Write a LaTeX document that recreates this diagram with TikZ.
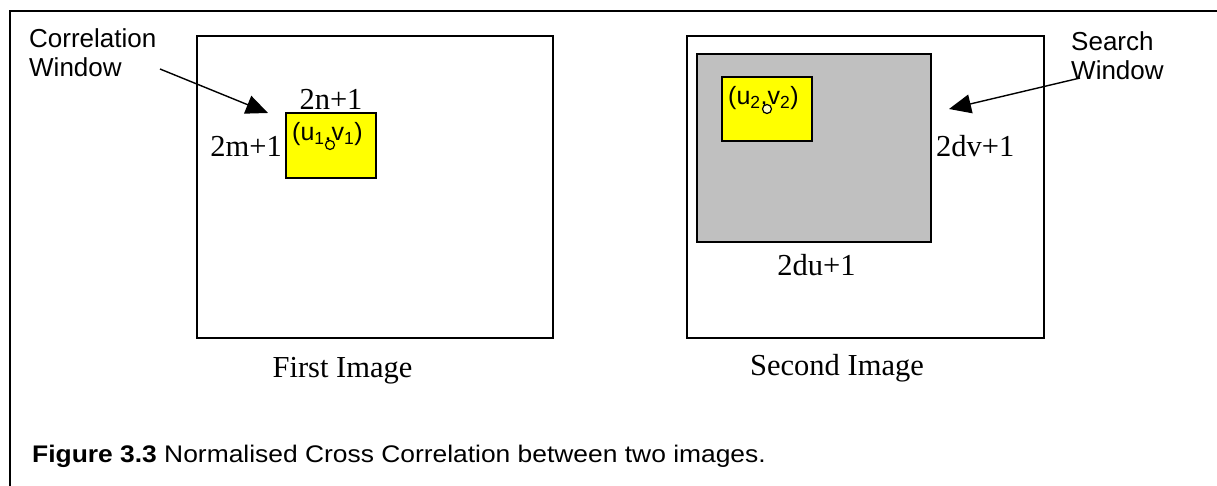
\documentclass[tikz,border=0pt]{standalone}
\usepackage{fontspec}
\setmainfont{Liberation Serif}
\setsansfont{Liberation Sans}
\usetikzlibrary{arrows.meta}
\definecolor{winyellow}{RGB}{255,255,0}
\definecolor{wingray}{RGB}{192,192,192}
\definecolor{dotyellow}{RGB}{255,255,190}
\tikzset{
  frameline/.style={line width=1.6pt},
  imgbox/.style={draw, line width=1.6pt, fill=white},
  searchbox/.style={draw, line width=1.4pt, fill=wingray},
  corrbox/.style={draw, line width=1.4pt, fill=winyellow},
  serlabel/.style={font=\fontsize{30.5}{34}\selectfont, inner sep=0pt},
  sanslabel/.style={font=\sffamily\fontsize{26}{29}\selectfont, inner sep=0pt, align=left},
  uvlabel/.style={font=\sffamily\fontsize{25}{28}\selectfont, inner sep=0pt},
  pointer/.style={line width=1.4pt, -{Triangle[length=22pt,width=19pt]}},
  centre/.style={draw, line width=1.2pt, circle, minimum size=9pt, inner sep=0pt}
}
\begin{document}
\begin{tikzpicture}[x=1pt,y=-1pt]
\useasboundingbox (0,0) rectangle (1217,486);
% outer frame
\draw[frameline] (10,486) -- (10,11) -- (1217,11);
% first image
\draw[imgbox] (197,36) rectangle (553,338);
\draw[corrbox] (286,113) rectangle (376,178);
\node[uvlabel, anchor=base west] (uv1) at (292,141) {(u\textsubscript{1},v\textsubscript{1})};
\node[centre, fill=winyellow] (c1) at (330,145) {};
\node[serlabel, anchor=base] (n1) at (331,110) {2n+1};
\node[serlabel, anchor=base east] (m1) at (282,157) {2m+1};
\node[serlabel, anchor=base] (fi) at (342.5,377) {First Image};
\node[sanslabel, anchor=north west] (corr) at (29,28) {Correlation\\Window};
\coordinate (corrtail) at (160,69);
\coordinate (corrtip) at (268,113);
\draw[pointer] (corrtail) -- (corrtip);
% second image
\draw[imgbox] (687,36) rectangle (1044,338);
\draw[searchbox] (697,54) rectangle (931,242);
\draw[corrbox] (722,77) rectangle (812,141);
\node[uvlabel, anchor=base west] (uv2) at (728,105) {(u\textsubscript{2},v\textsubscript{2})};
\node[centre, fill=dotyellow] (c2) at (767,109) {};
\node[serlabel, anchor=base west] (dv) at (936,157) {2dv+1};
\node[serlabel, anchor=base] (du) at (816.5,276) {2du+1};
\node[serlabel, anchor=base] (si) at (837,375) {Second Image};
\node[sanslabel, anchor=north west] (search) at (1071,31) {Search\\Window};
\coordinate (srchtail) at (1080,78);
\coordinate (srchtip) at (949,109);
\draw[pointer] (srchtail) -- (srchtip);
% caption
\node[font=\sffamily\fontsize{24}{28}\selectfont, inner sep=0pt, anchor=base west] (cap) at (32,462) {\scalebox{1.1}[1]{\textbf{Figure 3.3} Normalised Cross Correlation between two images.}};
\end{tikzpicture}
\end{document}
